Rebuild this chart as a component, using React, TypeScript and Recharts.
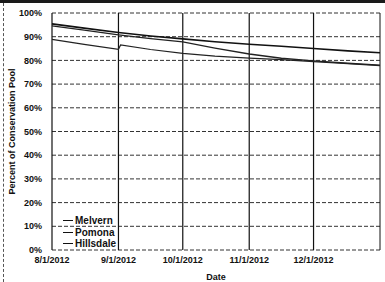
import React from "react";
import {
  LineChart,
  Line,
  XAxis,
  YAxis,
  CartesianGrid,
  ReferenceLine,
} from "recharts";

// Day offsets from 8/1/2012
const days = [0, 15, 31, 32, 46, 61, 76, 92, 107, 122, 138, 153];
const melvern = [95.4, 93.6, 91.8, null, 90.3, 89.1, 87.9, 86.8, 86.0, 85.0, 84.0, 83.2];
const pomona = [94.6, 92.8, 90.8, null, 89.2, 87.8, 85.2, 82.7, 80.9, 79.8, 78.8, 78.0];
const hillsdale = [88.9, 86.8, 84.7, 86.5, 84.6, 83.0, 81.8, 81.0, 80.3, 79.5, 78.6, 77.8];

const xTicks = [0, 31, 61, 92, 122];
const xTickLabels = ["8/1/2012", "9/1/2012", "10/1/2012", "11/1/2012", "12/1/2012"];
const yTicks = [0, 10, 20, 30, 40, 50, 60, 70, 80, 90, 100];
const seriesNames = ["Melvern", "Pomona", "Hillsdale"];

const data = days.map((d, i) => ({
  day: d,
  Melvern: melvern[i],
  Pomona: pomona[i],
  Hillsdale: hillsdale[i],
}));

const FONT = "'Liberation Sans', Arial, sans-serif";

const LegendBox = () => (
  <div
    style={{
      position: "absolute",
      left: 63,
      top: 215,
      fontFamily: FONT,
      fontSize: 10,
      fontWeight: "bold",
      color: "#111",
      lineHeight: "11.5px",
      background: "transparent",
    }}
  >
    {seriesNames.map((n) => (
      <div key={n} style={{ display: "flex", alignItems: "center" }}>
        <span style={{ display: "inline-block", width: 10, height: 0, borderTop: "1.3px solid #111", marginRight: 2 }} />
        <span>{n}</span>
      </div>
    ))}
  </div>
);

export default function App() {
  return (
    <div style={{ position: "absolute", left: 0, top: 0, width: 385, height: 282, background: "#fff", overflow: "hidden" }}>
      <div style={{ position: "absolute", left: 0, top: 0, width: 385, height: 3, background: "#1a1a1a" }} />
      <div style={{ position: "absolute", left: 3, top: 3, width: 0, height: 279, borderLeft: "1px dashed #555" }} />
      <LineChart
        width={385}
        height={282}
        data={data}
        margin={{ top: 13, right: 5, left: 0, bottom: 0 }}
        style={{ fontFamily: FONT }}
      >
        <CartesianGrid vertical={false} stroke="#333" strokeDasharray="4 2" />
        {xTicks.map((t) => (
          <ReferenceLine key={t} x={t} stroke="#111" strokeWidth={1.2} />
        ))}
        <ReferenceLine x={153} stroke="#111" strokeWidth={1} />
        <XAxis
          dataKey="day"
          type="number"
          domain={[0, 153]}
          ticks={xTicks}
          tickFormatter={(v) => xTickLabels[xTicks.indexOf(v)] ?? ""}
          tick={{ fontSize: 9, fontWeight: "bold", fill: "#111" }}
          tickLine={false}
          axisLine={false}
          tickSize={4}
          tickMargin={3}
          height={32}
          label={{ value: "Date", position: "insideBottom", offset: 2, style: { fontSize: 9, fontWeight: "bold", fill: "#111" } }}
        />
        <YAxis
          type="number"
          domain={[0, 100]}
          ticks={yTicks}
          tickFormatter={(v) => `${v}%`}
          tick={{ fontSize: 9, fontWeight: "bold", fill: "#111" }}
          tickLine={false}
          axisLine={false}
          tickSize={5}
          tickMargin={5}
          width={52}
          interval={0}
          label={{
            value: "Percent of Conservation Pool",
            angle: -90,
            position: "insideLeft",
            offset: 12,
            style: { textAnchor: "middle", fontSize: 9, fontWeight: "bold", fill: "#111" },
          }}
        />
        <Line type="linear" dataKey="Melvern" stroke="#111" strokeWidth={1.6} dot={false} connectNulls isAnimationActive={false} />
        <Line type="linear" dataKey="Pomona" stroke="#222" strokeWidth={1.3} dot={false} connectNulls isAnimationActive={false} />
        <Line type="linear" dataKey="Hillsdale" stroke="#222" strokeWidth={1.2} dot={false} connectNulls isAnimationActive={false} />
      </LineChart>
      <LegendBox />
    </div>
  );
}
